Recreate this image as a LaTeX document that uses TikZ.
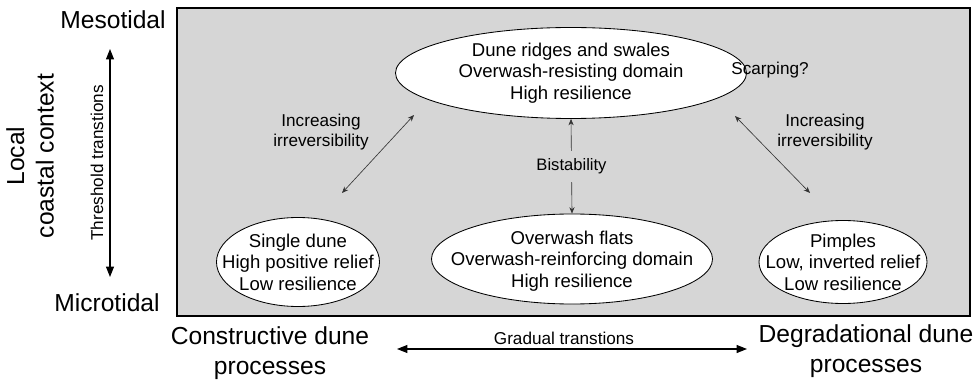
\documentclass[tikz,border=0pt]{standalone}
\usepackage{fontspec}
\setmainfont{Liberation Sans}
\usetikzlibrary{shapes.geometric, arrows.meta}
\definecolor{boxgray}{RGB}{214,214,214}

\begin{document}
\begin{tikzpicture}[x = 0.25mm, y = -0.25mm,
		state/.style = {draw, ellipse, fill = white, line width = 0.6pt, inner sep = 0pt},
		statetext/.style = {align = center, inner sep = 0pt, font = \fontsize{13.2}{15.2}\selectfont},
		small/.style = {align = center, inner sep = 1pt, text = black, font = \fontsize{12.2}{14.5}\selectfont},
		big/.style = {align = center, inner sep = 0pt, font = \fontsize{17.5}{21}\selectfont},
		thinarrow/.style = {{Stealth[length = 1.6mm, width = 1.3mm]}-{Stealth[length = 1.6mm, width = 1.3mm]}, line width = 0.45pt, black!80},
		bigarrow/.style = {{Triangle[length = 2.6mm, width = 2mm]}-{Triangle[length = 2.6mm, width = 2mm]}, line width = 0.8pt}]
		\useasboundingbox (0, 0) rectangle (980, 382);
		%%%%%%%%%%%%%
		\draw [fill = boxgray, line width = 0.8pt] (177, 8) rectangle (970, 316);
		%%%%%%%%%%%%%
		\node [state, minimum width = 87.75mm, minimum height = 22.75mm] (ridges) at (571, 73) {};
		\node [statetext] (ridges-t) at (ridges) {Dune ridges and swales\\Overwash-resisting domain\\High resilience};
		\node [state, minimum width = 40.75mm, minimum height = 22.25mm] (single) at (298, 262) {};
		\node [statetext] (single-t) at (single) {Single dune\\High positive relief\\Low resilience};
		\node [state, minimum width = 70.25mm, minimum height = 22.5mm] (flats) at (572, 259) {};
		\node [statetext] (flats-t) at (572, 261) {Overwash flats\\Overwash-reinforcing domain\\High resilience};
		\node [state, minimum width = 42mm, minimum height = 20.75mm] (pimples) at (843, 262) {};
		\node [statetext] (pimples-t) at (pimples) {Pimples\\Low, inverted relief\\Low resilience};
		%%%%%%%%%%%%%
		\node [small] (scarp) at (770, 70) {Scarping?};
		\node [small] (irrev-l) at (321, 132) {Increasing\\irreversibility};
		\node [small] (irrev-r) at (825, 132) {Increasing\\irreversibility};
		%%%%%%%%%%%%%
		\node [big] (meso) at (113, 20) {Mesotidal};
		\node [big] (micro) at (107, 303) {Microtidal};
		\node [big, rotate = 90] (local) at (30, 156) {Local\\coastal context};
		\node [big] (constr) at (270, 353) {Constructive dune\\processes};
		\node [big] (degrad) at (866, 351) {Degradational dune\\processes};
		%%%%%%%%%%%%%
		\coordinate (tt-top) at (110, 49); \coordinate (tt-bot) at (110, 277);
		\coordinate (gt-left) at (397, 349); \coordinate (gt-right) at (747, 349);
		\coordinate (dl-a) at (342, 193); \coordinate (dl-b) at (414, 115);
		\coordinate (dr-a) at (735, 116); \coordinate (dr-b) at (810, 193);
		%%%%%%%%%%%%%
		\draw [bigarrow] (tt-top) to (tt-bot);
		\node [small, rotate = 90] (thresh) at (97, 163) {Threshold transtions};
		\draw [bigarrow] (gt-left) to (gt-right);
		\node [small] (gradual) at (564, 338) {Gradual transtions};
		\draw [thinarrow] (dl-a) to (dl-b);
		\draw [thinarrow] (dr-a) to (dr-b);
		\draw [thinarrow] (ridges.south) to node [small, fill = boxgray, inner sep = 2mm, font = \fontsize{11.8}{14}\selectfont] (bist) {Bistability} (flats.north);
\end{tikzpicture}
\end{document}
